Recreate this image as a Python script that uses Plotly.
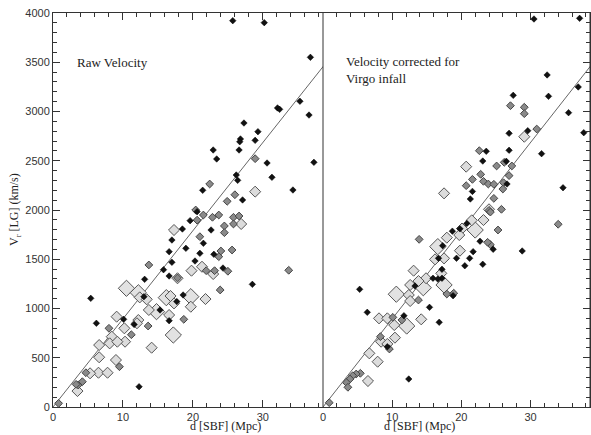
import plotly.graph_objects as go

# ---- data --------------------------------------------------------------
# left panel: raw velocity
raw_black_d = [25.7, 30.2, 36.8, 35.3, 32.1, 32.4, 36.6, 37.3, 27.3, 29.3, 26.8, 26.7, 28.9,
               22.9, 26.6, 23.4, 30.6, 26.2, 26.4, 31.3, 21.4, 34.3, 27.1, 20.6, 22.6, 19.6,
               18.5, 17.0, 16.6, 19.0, 21.0, 21.5, 23.0, 20.3, 17.0, 15.8, 16.6, 24.3, 28.5,
               13.1, 5.4, 6.2, 13.0, 17.7, 18.6, 16.6, 15.3, 10.1, 11.6, 12.3]
raw_black_v = [3922, 3902, 3550, 3104, 3036, 3022, 2964, 2484, 2883, 2795, 2721, 2693, 2707,
               2609, 2609, 2518, 2477, 2355, 2301, 2332, 2200, 2203, 2102, 1983, 1797, 1892,
               1807, 1695, 1577, 1611, 1560, 1662, 1550, 1482, 1469, 1394, 1330, 1411, 1245,
               1296, 1103, 850, 1120, 1070, 1137, 876, 985, 890, 838, 206]

raw_gray_d = [28.9, 22.4, 24.9, 26.0, 20.4, 21.5, 23.7, 22.8, 21.0, 24.5, 25.8, 26.6, 25.8,
              24.5, 25.6, 24.0, 23.7, 13.7, 21.9, 23.1, 25.0, 23.9, 33.7, 18.7, 13.6, 11.2,
              8.0, 9.5, 4.7, 4.2, 3.6, 3.3, 0.8, 20.6, 17.8]
raw_gray_v = [2521, 2264, 2088, 2155, 2000, 1949, 1949, 1926, 1729, 1838, 1926, 1939, 1858,
              1770, 1594, 1584, 1526, 1442, 1384, 1384, 1378, 1188, 1388, 890, 822, 734,
              799, 409, 348, 257, 223, 230, 37, 1897, 1310]

raw_light_d = [28.9, 17.3, 17.8, 19.8, 21.3, 22.9, 26.9, 12.4, 13.4, 21.8, 19.7, 17.3, 16.6,
               14.1, 13.7, 12.2, 10.2, 10.3, 9.1, 8.4, 8.1, 9.2, 6.6, 6.6, 9.0, 6.5, 7.8,
               5.3, 3.5, 12.0, 16.8]
raw_light_v = [2186, 1797, 1307, 1384, 1424, 1350, 1858, 1113, 1093, 1096, 1018, 1052, 934,
               602, 985, 883, 799, 663, 917, 714, 646, 663, 629, 505, 477, 348, 348,
               342, 162, 850, 1127]

raw_big_d = [10.5, 12.2, 16.2, 19.7, 14.8, 17.2]
raw_big_v = [1205, 1160, 1110, 1120, 968, 731]

# right panel: velocity corrected for Virgo infall
cor_black_d = [30.5, 37.1, 32.4, 36.9, 32.6, 27.5, 35.5, 37.7, 29.6, 26.9, 31.6, 26.9, 23.6,
               23.1, 34.7, 26.5, 26.6, 21.6, 21.3, 20.8, 19.8, 18.7, 22.7, 21.7, 24.6, 28.8,
               17.3, 16.7, 19.3, 21.2, 20.5, 23.1, 17.2, 17.2, 16.6, 15.9, 13.3, 18.8, 5.3,
               6.4, 15.4, 16.8, 11.7, 12.4, 9.3]
cor_black_v = [3939, 3946, 3371, 3249, 3154, 3164, 2988, 2785, 2805, 2778, 2572, 2606, 2596,
               2497, 2226, 2494, 2264, 2189, 2112, 1864, 1809, 1785, 1683, 1577, 1601, 1584,
               1638, 1510, 1510, 1510, 1434, 1449, 1398, 1307, 1299, 1307, 1228, 1130, 1195,
               961, 1012, 860, 927, 284, 612]

cor_gray_d = [27.1, 29.1, 29.1, 30.9, 22.6, 25.1, 26.2, 27.3, 22.8, 21.6, 23.2, 23.9, 24.7,
              26.9, 26.1, 20.7, 26.0, 24.7, 25.8, 25.3, 34.0, 13.9, 24.2, 23.8, 17.9, 18.9,
              13.8, 10.1, 11.4, 8.3, 9.6, 5.4, 4.8, 4.3, 3.9, 3.4, 3.6, 0.9, 24.0, 24.2]
cor_gray_v = [3059, 3043, 2978, 2822, 2602, 2447, 2484, 2447, 2362, 2311, 2291, 2264, 2261,
              2349, 2277, 2247, 2213, 2118, 2007, 1797, 1855, 1702, 1648, 1672, 1147, 1155,
              1086, 910, 883, 714, 589, 342, 335, 318, 284, 247, 200, 44, 1996, 1979]

cor_light_d = [29.1, 20.7, 17.5, 21.5, 23.2, 20.1, 19.7, 17.9, 19.8, 16.2, 17.5, 17.1, 13.1,
               14.9, 13.8, 12.6, 12.4, 12.6, 8.1, 9.3, 14.2, 10.3, 8.4, 10.4, 9.3, 6.7,
               7.9, 6.5, 24.0]
cor_light_v = [2744, 2440, 2169, 1895, 1898, 1812, 1746, 1719, 1587, 1499, 1509, 1357, 1384,
               1307, 1279, 1239, 1137, 1076, 900, 900, 890, 832, 663, 704, 640, 545,
               460, 264, 2007]

cor_big_d = [22.0, 16.6, 14.5, 17.5, 10.6, 12.1]
cor_big_v = [1797, 1628, 1211, 1239, 1145, 822]

# reference line V = H0 * d
fit_d = [0, 40]
fit_v = [0, 3580]

X_MAX = 38.6
TEXT_FONT = dict(family="Liberation Serif", size=13, color="#222")
TITLE_FONT = dict(family="Liberation Serif", size=12, color="#222")
TICK_FONT = dict(family="Liberation Sans", size=11, color="#333")
AXIS_COLOR = "#333"

STYLES = {
    "black": dict(size=5, color="#111", line=dict(width=0.5, color="#000")),
    "gray": dict(size=6, color="#8a8a8a", line=dict(width=1, color="#444")),
    "light": dict(size=8.5, color="#dcdcdc", line=dict(width=1, color="#555")),
    "big": dict(size=12.5, color="#e2e2e2", line=dict(width=1, color="#555")),
}


def add_panel(fig, xa, ya, groups):
    fig.add_trace(go.Scatter(
        x=fit_d, y=fit_v, mode="lines", xaxis=xa, yaxis=ya,
        line=dict(color="#666", width=1), hoverinfo="skip",
    ))
    # big markers first so the small ones sit on top
    for kind in ["big", "light", "gray", "black"]:
        d, v = groups[kind]
        fig.add_trace(go.Scatter(
            x=d, y=v, mode="markers", xaxis=xa, yaxis=ya,
            marker=dict(symbol="diamond", **STYLES[kind]),
        ))


fig = go.Figure()
add_panel(fig, "x", "y", {
    "black": (raw_black_d, raw_black_v), "gray": (raw_gray_d, raw_gray_v),
    "light": (raw_light_d, raw_light_v), "big": (raw_big_d, raw_big_v),
})
add_panel(fig, "x2", "y2", {
    "black": (cor_black_d, cor_black_v), "gray": (cor_gray_d, cor_gray_v),
    "light": (cor_light_d, cor_light_v), "big": (cor_big_d, cor_big_v),
})
# empty traces so the top tick axes get their own subplots
fig.add_trace(go.Scatter(x=[], y=[], xaxis="x3", yaxis="y", hoverinfo="skip"))
fig.add_trace(go.Scatter(x=[], y=[], xaxis="x4", yaxis="y2", hoverinfo="skip"))

split = 270 / 537


def xaxis_style(**kw):
    return dict(
        range=[0, X_MAX], dtick=10, ticks="inside", ticklen=7, tickcolor=AXIS_COLOR,
        showline=True, linecolor=AXIS_COLOR, linewidth=1, mirror=False,
        showgrid=False, zeroline=False, automargin=False,
        minor=dict(dtick=2, ticks="inside", ticklen=4, tickcolor=AXIS_COLOR, showgrid=False),
        tickfont=TICK_FONT, **kw,
    )


def yaxis_style(**kw):
    return dict(
        range=[0, 4000], dtick=500, ticks="inside", ticklen=7, tickcolor=AXIS_COLOR,
        showline=True, linecolor=AXIS_COLOR, linewidth=1, mirror=False,
        showgrid=False, zeroline=False, automargin=False,
        minor=dict(dtick=100, ticks="inside", ticklen=4, tickcolor=AXIS_COLOR, showgrid=False),
        tickfont=TICK_FONT, **kw,
    )


fig.update_layout(
    width=591, height=435,
    margin=dict(l=53, r=1, t=13, b=28),
    paper_bgcolor="white", plot_bgcolor="white",
    showlegend=False,
    xaxis=xaxis_style(domain=[0, split], anchor="y"),
    xaxis2=xaxis_style(domain=[split, 1], anchor="y2"),
    xaxis3=xaxis_style(overlaying="x", side="top", anchor="y", showticklabels=False),
    xaxis4=xaxis_style(overlaying="x2", side="top", anchor="y2", showticklabels=False),
    yaxis=yaxis_style(domain=[0, 1], anchor="x", side="left"),
    yaxis2=yaxis_style(domain=[0, 1], anchor="x2", side="right", showticklabels=False),
    shapes=[
        # divider between the two panels and right frame edge
        dict(type="line", xref="paper", yref="paper", x0=split, x1=split, y0=0, y1=1,
             line=dict(color=AXIS_COLOR, width=1)),
        dict(type="line", xref="paper", yref="paper", x0=1, x1=1, y0=0, y1=1,
             line=dict(color=AXIS_COLOR, width=1)),
    ],
    annotations=[
        dict(x=3.1, y=3500, xref="x", yref="y", text="Raw Velocity",
             showarrow=False, xanchor="left", font=TEXT_FONT),
        dict(x=3.0, y=3420, xref="x2", yref="y2",
             text="Velocity corrected for<br>Virgo infall", align="left",
             showarrow=False, xanchor="left", font=TEXT_FONT),
        # axis titles, sitting on the bottom edge under the tick labels
        dict(x=split / 2, y=0, xref="paper", yref="paper", yanchor="bottom", yshift=-28,
             text="d [SBF] (Mpc)", showarrow=False, font=TITLE_FONT),
        dict(x=(1 + split) / 2, y=0, xref="paper", yref="paper", yanchor="bottom", yshift=-28,
             text="d [SBF] (Mpc)", showarrow=False, font=TITLE_FONT),
        dict(x=0, y=0.5, xref="paper", yref="paper", xanchor="center", xshift=-38,
             textangle=-90, text="V<sub>r</sub> [LG] (km/s)", showarrow=False, font=TITLE_FONT),
    ],
)

# the page body has an 8px default margin; drop it so the figure fills the window
fig.write_html("out.html", config={"displayModeBar": False},
               post_script="document.body.style.margin = '0';")
